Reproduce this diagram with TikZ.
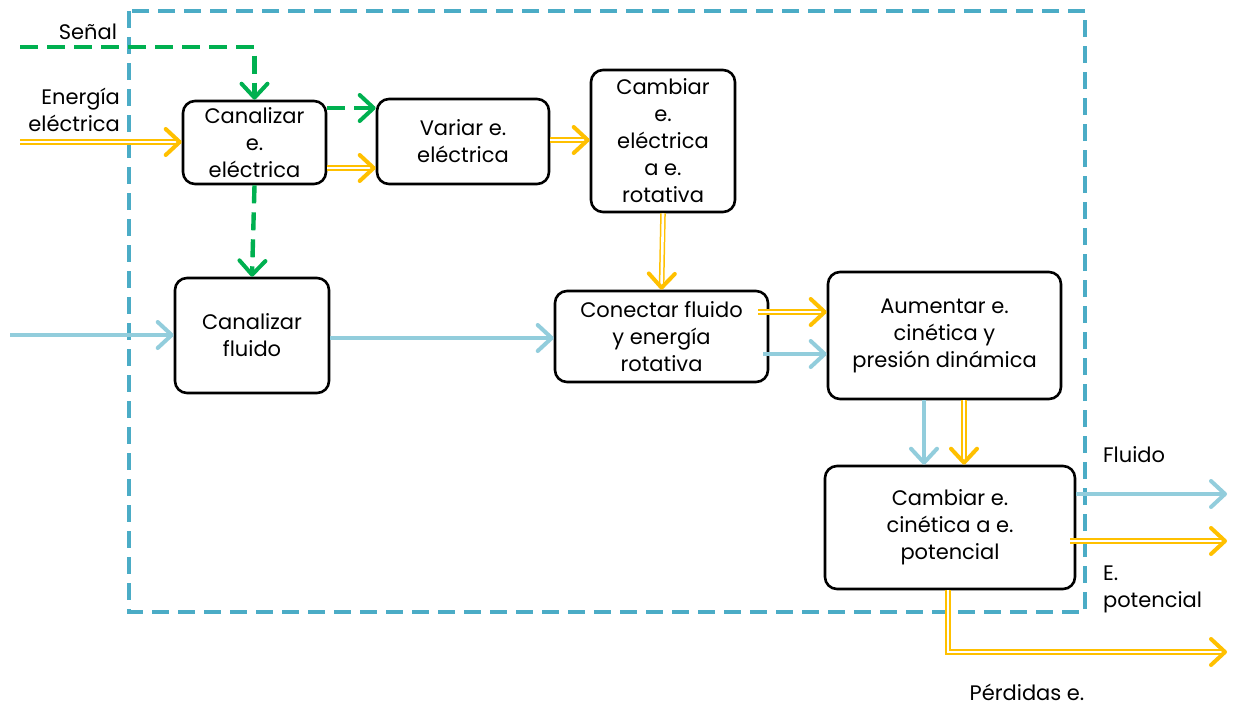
\documentclass[tikz,border=0pt]{standalone}
\usepackage{fontspec}
\setmainfont{Poppins}
\usetikzlibrary{arrows.meta}

\definecolor{verde}{HTML}{00B050}
\definecolor{amarillo}{HTML}{FFC000}
\definecolor{celeste}{HTML}{92CDDC}
\definecolor{borde}{HTML}{4BACC6}

\tikzset{
  caja/.style={draw, rounded corners=6pt, line width=1.3pt, align=center, inner sep=0pt},
  punta/.style={-{Straight Barb[length=7pt,width=13pt,line width=2pt,round]}},
  senal/.style={punta, verde, line width=2.2pt, dash pattern=on 9pt off 4.5pt},
  energia/.style={punta, draw=amarillo, double=white, double distance=1.3pt, line width=0.75pt},
  fluido/.style={punta, celeste, line width=2.3pt},
}

\begin{document}
\begin{tikzpicture}[x=0.5pt, y=-0.5pt, font=\fontsize{10.5}{13.5}\selectfont]
\useasboundingbox (0,0) rectangle (1235,707);

\draw[borde, line width=2pt, dash pattern=on 8.5pt off 4.5pt] (129,11) rectangle (1085,612);

\node[caja, minimum width=71.5pt, minimum height=41.5pt] (ce) at (254.5,142.5) {Canalizar\\e.\\eléctrica};
\node[caja, minimum width=86pt, minimum height=42.5pt] (ve) at (463,141.5) {Variar e.\\eléctrica};
\node[caja, minimum width=72pt, minimum height=71pt] (cr) at (663,141) {Cambiar\\e.\\eléctrica\\a e.\\rotativa};
\node[caja, minimum width=77pt, minimum height=57.5pt] (cf) at (252,335.5) {Canalizar\\fluido};
\node[caja, minimum width=106.5pt, minimum height=45.5pt] (con) at (661.5,336.5) {Conectar fluido\\y energía\\rotativa};
\node[caja, minimum width=116.5pt, minimum height=63.5pt] (aum) at (944.5,335.5) {Aumentar e.\\cinética y\\presión dinámica};
\node[caja, minimum width=125pt, minimum height=61.5pt] (cin) at (950,527.5) {Cambiar e.\\cinética a e.\\potencial};

\node[anchor=east] (lsen) at (124,32) {Señal};
\node[anchor=east, align=right] (lele) at (127,110) {Energía\\eléctrica};
\node[anchor=west] (lflu) at (1096,455) {Fluido};
\node[anchor=west, align=left] (lpot) at (1096,589) {E.\\potencial};
\node (lper) at (1027,692) {Pérdidas e.};

\coordinate (s0) at (20,47);
\coordinate (e0) at (20,142);
\coordinate (f0) at (10,335);
\coordinate (fs) at (1227,494);
\coordinate (es) at (1227,541);
\coordinate (ps) at (1227,652);

\draw[senal] (s0) -| (ce.north);
\draw[senal] (ce.east |- 0,108) -- (ve.west |- 0,108);
\draw[senal] (ce.south) -- (cf.north);

\draw[energia] (e0) -- (ce.west |- e0);
\draw[energia] (ce.east |- 0,168) -- (ve.west |- 0,168);
\draw[energia] (ve.east |- 0,140) -- (cr.west |- 0,140);
\draw[energia] (cr.south) -- (con.north);
\draw[energia] ([xshift=-5.5pt]con.east |- 0,312) -- (aum.west |- 0,312);
\draw[energia] (aum.south -| 964,0) -- (cin.north -| 964,0);
\draw[energia] ([xshift=-3pt]cin.east |- 0,541) -- (es);
\draw[energia] (cin.south -| 948,0) |- (ps);

\draw[fluido] (f0) -- (cf.west |- f0);
\draw[fluido] (cf.east |- 0,338) -- (con.west |- 0,338);
\draw[fluido] ([xshift=-3pt]con.east |- 0,354) -- (aum.west |- 0,354);
\draw[fluido] (aum.south -| 924,0) -- (cin.north -| 924,0);
\draw[fluido] (cin.east |- 0,494) -- (fs);
\end{tikzpicture}
\end{document}
